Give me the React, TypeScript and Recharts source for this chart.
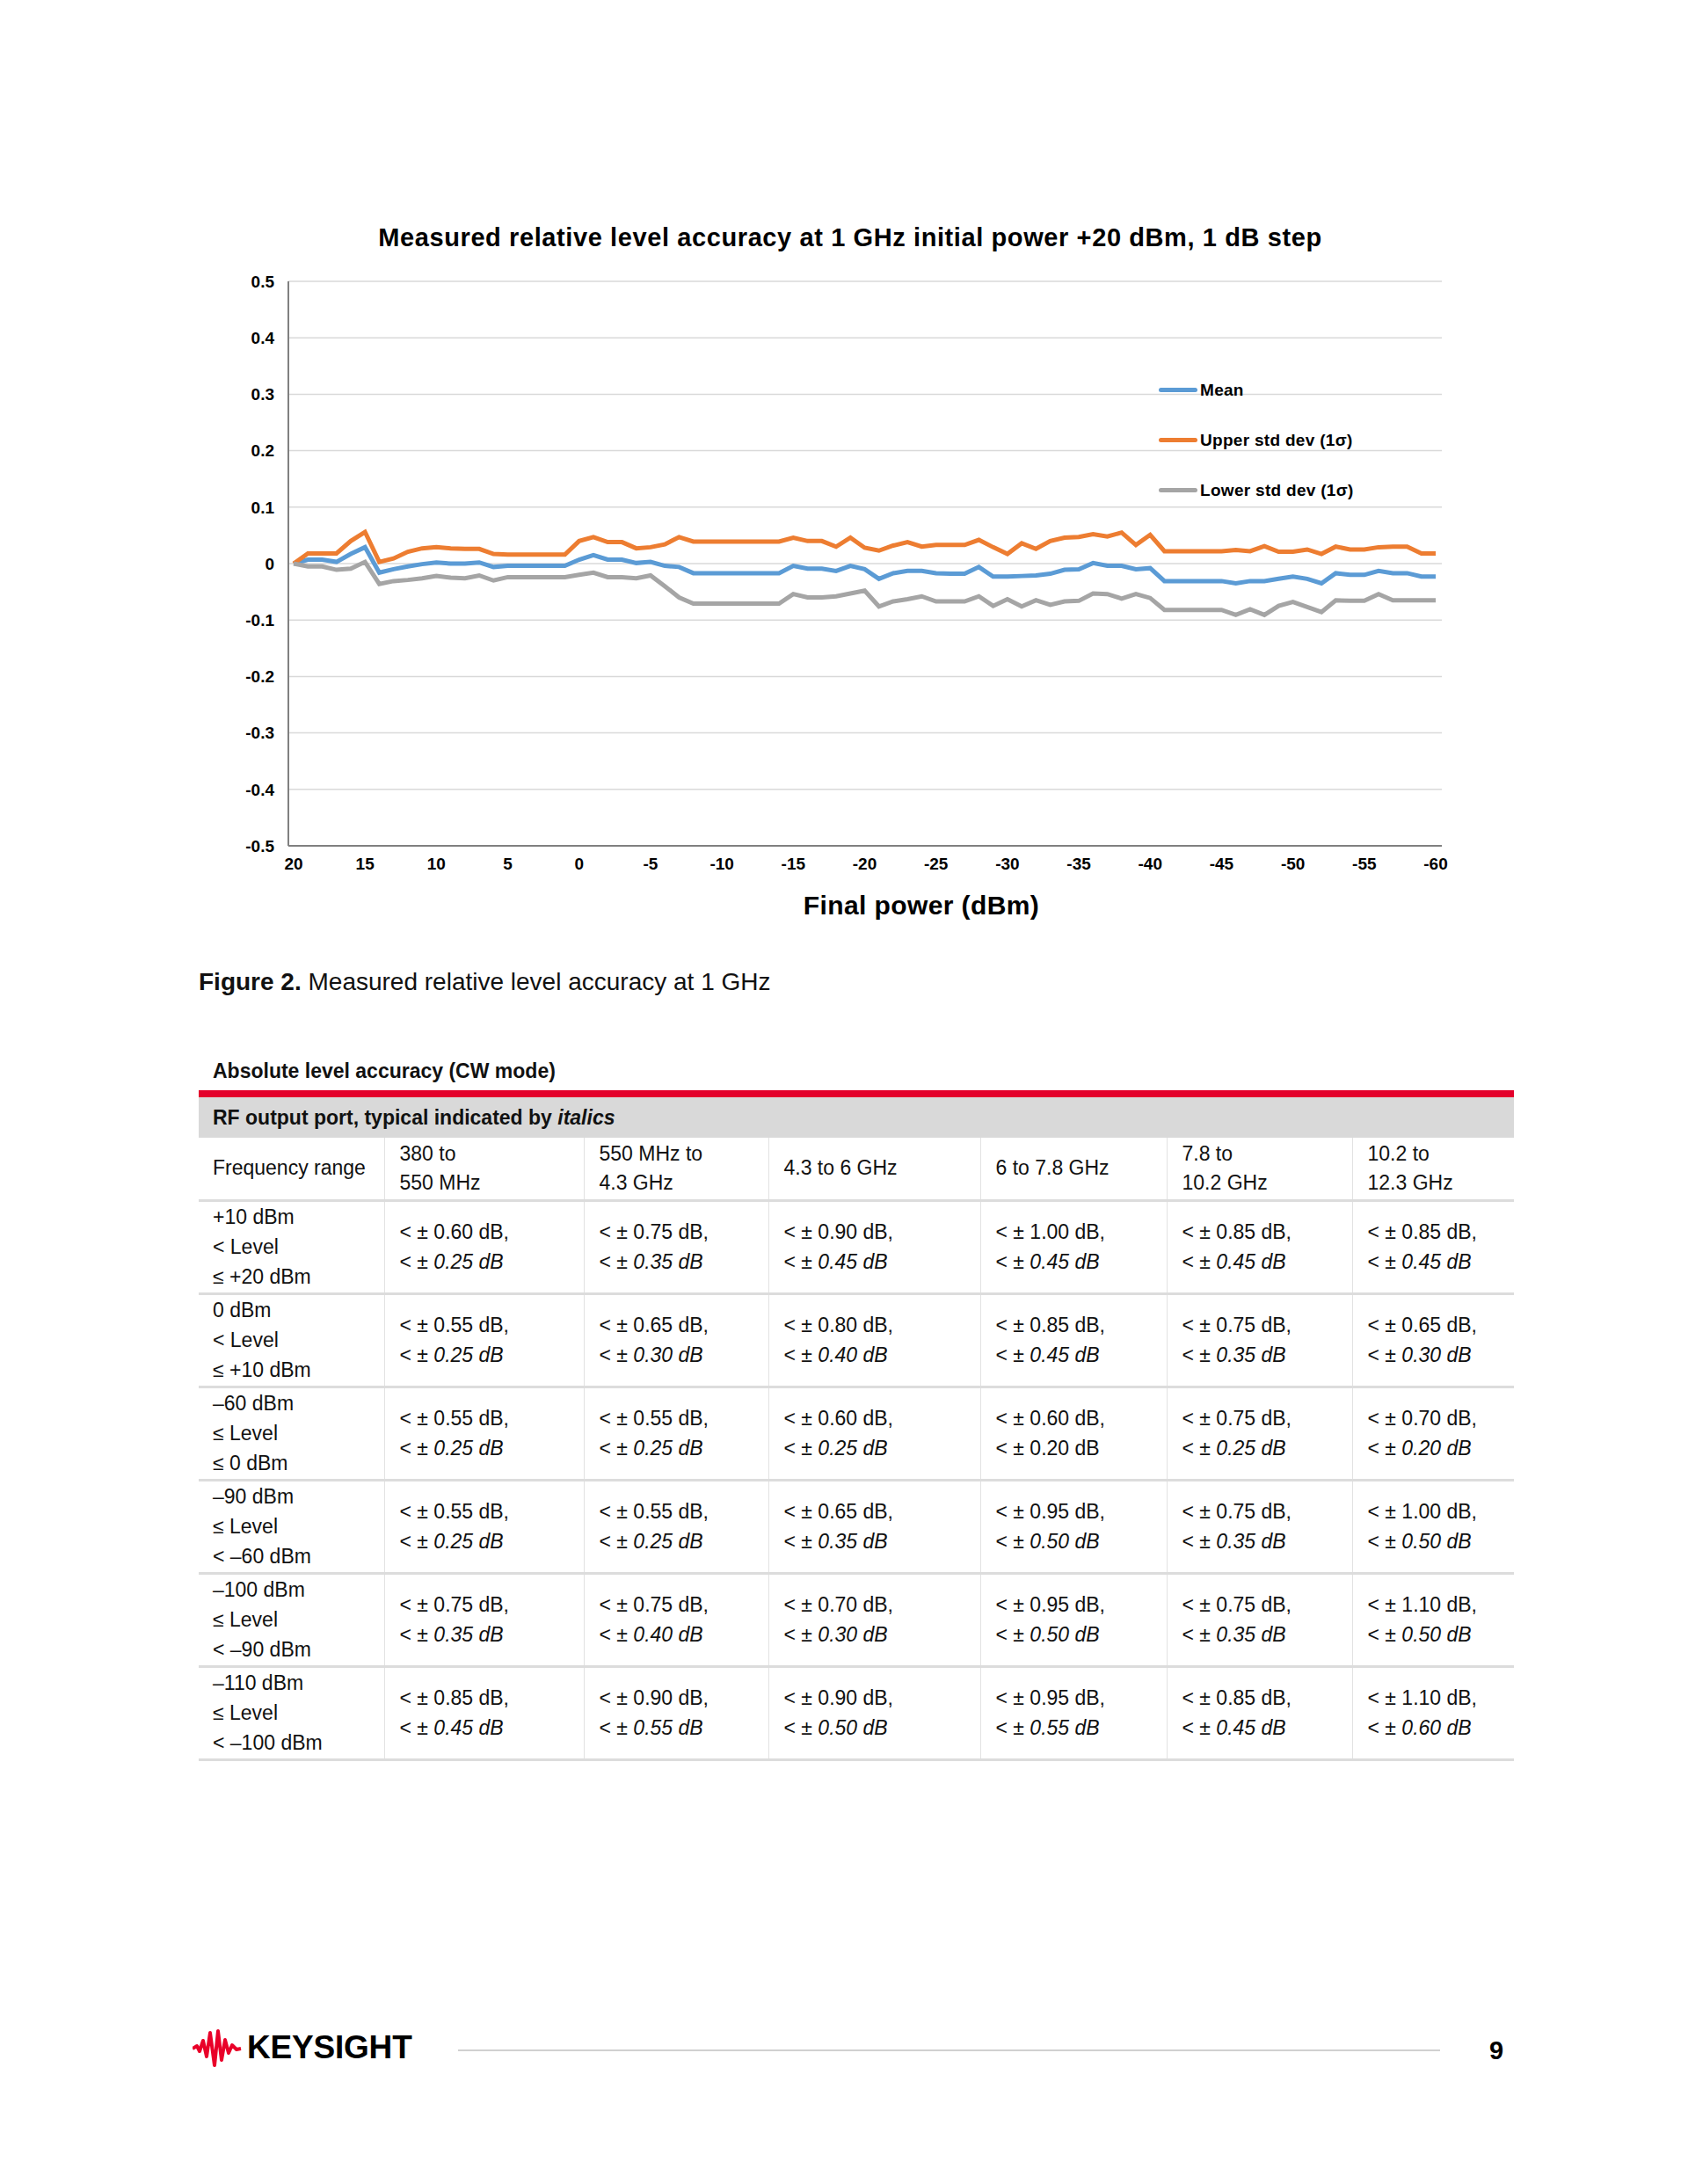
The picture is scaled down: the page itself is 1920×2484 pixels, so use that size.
import React from 'react';
import { LineChart, Line, XAxis, YAxis, CartesianGrid, Legend } from 'recharts';

// final power steps, 1 dB each, from +20 down to -60 dBm
const finalPower = [
  20, 19, 18, 17, 16, 15, 14, 13, 12, 11, 10, 9, 8, 7, 6, 5, 4, 3, 2, 1, 0,
  -1, -2, -3, -4, -5, -6, -7, -8, -9, -10, -11, -12, -13, -14, -15, -16, -17, -18, -19, -20,
  -21, -22, -23, -24, -25, -26, -27, -28, -29, -30, -31, -32, -33, -34, -35, -36, -37, -38, -39, -40,
  -41, -42, -43, -44, -45, -46, -47, -48, -49, -50, -51, -52, -53, -54, -55, -56, -57, -58, -59, -60,
];

const meanValues = [
  0, 0.007, 0.007, 0.003, 0.017, 0.029, -0.016, -0.01, -0.005, -0.001, 0.002, 0, 0, 0.002, -0.006, -0.004, -0.004, -0.004, -0.004, -0.004, 0.007,
  0.015, 0.007, 0.007, 0.001, 0.003, -0.004, -0.006, -0.017, -0.017, -0.017, -0.017, -0.017, -0.017, -0.017, -0.004, -0.009, -0.009, -0.013, -0.004, -0.01,
  -0.027, -0.017, -0.013, -0.013, -0.017, -0.018, -0.018, -0.006, -0.023, -0.023, -0.022, -0.021, -0.018, -0.011, -0.01, 0.001, -0.004, -0.004, -0.01, -0.008,
  -0.031, -0.031, -0.031, -0.031, -0.031, -0.035, -0.031, -0.031, -0.027, -0.023, -0.027, -0.035, -0.017, -0.02, -0.02, -0.013, -0.017, -0.017, -0.023, -0.023,
];

const upperValues = [
  0, 0.018, 0.018, 0.018, 0.04, 0.056, 0.003, 0.009, 0.021, 0.027, 0.029, 0.027, 0.026, 0.026, 0.017, 0.016, 0.016, 0.016, 0.016, 0.016, 0.04,
  0.047, 0.038, 0.038, 0.027, 0.029, 0.034, 0.047, 0.039, 0.039, 0.039, 0.039, 0.039, 0.039, 0.039, 0.046, 0.04, 0.04, 0.03, 0.046, 0.028,
  0.023, 0.032, 0.038, 0.03, 0.033, 0.033, 0.033, 0.042, 0.029, 0.017, 0.036, 0.026, 0.04, 0.046, 0.047, 0.052, 0.048, 0.055, 0.033, 0.051,
  0.022, 0.022, 0.022, 0.022, 0.022, 0.024, 0.022, 0.031, 0.021, 0.021, 0.025, 0.017, 0.03, 0.025, 0.025, 0.029, 0.03, 0.03, 0.018, 0.018,
];

const lowerValues = [
  0, -0.005, -0.005, -0.011, -0.009, 0.003, -0.036, -0.031, -0.029, -0.026, -0.022, -0.025, -0.026, -0.021, -0.03, -0.024, -0.024, -0.024, -0.024, -0.024, -0.02,
  -0.016, -0.024, -0.024, -0.026, -0.021, -0.04, -0.06, -0.071, -0.071, -0.071, -0.071, -0.071, -0.071, -0.071, -0.054, -0.06, -0.06, -0.058, -0.053, -0.048,
  -0.076, -0.067, -0.063, -0.058, -0.067, -0.067, -0.067, -0.058, -0.075, -0.063, -0.076, -0.065, -0.073, -0.067, -0.066, -0.053, -0.054, -0.062, -0.054, -0.061,
  -0.082, -0.082, -0.082, -0.082, -0.082, -0.091, -0.081, -0.091, -0.075, -0.068, -0.077, -0.086, -0.065, -0.066, -0.066, -0.054, -0.065, -0.065, -0.065, -0.065,
];

const seriesNames = ['Mean', 'Upper std dev (1σ)', 'Lower std dev (1σ)'];

const xTicks = [20, 15, 10, 5, 0, -5, -10, -15, -20, -25, -30, -35, -40, -45, -50, -55, -60];
const yTicks = [0.5, 0.4, 0.3, 0.2, 0.1, 0, -0.1, -0.2, -0.3, -0.4, -0.5];

// table contents
const freqHeaders = [
  ['380 to', '550 MHz'],
  ['550 MHz to', '4.3 GHz'],
  ['4.3 to 6 GHz'],
  ['6 to 7.8 GHz'],
  ['7.8 to', '10.2 GHz'],
  ['10.2 to', '12.3 GHz'],
];

const levelRanges = [
  ['+10 dBm', '< Level', '≤ +20 dBm'],
  ['0 dBm', '< Level', '≤ +10 dBm'],
  ['–60 dBm', '≤ Level', '≤ 0 dBm'],
  ['–90 dBm', '≤ Level', '< –60 dBm'],
  ['–100 dBm', '≤ Level', '< –90 dBm'],
  ['–110 dBm', '≤ Level', '< –100 dBm'],
];

const specValues = [
  ['0.60', '0.75', '0.90', '1.00', '0.85', '0.85'],
  ['0.55', '0.65', '0.80', '0.85', '0.75', '0.65'],
  ['0.55', '0.55', '0.60', '0.60', '0.75', '0.70'],
  ['0.55', '0.55', '0.65', '0.95', '0.75', '1.00'],
  ['0.75', '0.75', '0.70', '0.95', '0.75', '1.10'],
  ['0.85', '0.90', '0.90', '0.95', '0.85', '1.10'],
];

const typicalValues = [
  ['0.25', '0.35', '0.45', '0.45', '0.45', '0.45'],
  ['0.25', '0.30', '0.40', '0.45', '0.35', '0.30'],
  ['0.25', '0.25', '0.25', '0.20', '0.25', '0.20'],
  ['0.25', '0.25', '0.35', '0.50', '0.35', '0.50'],
  ['0.35', '0.40', '0.30', '0.50', '0.35', '0.50'],
  ['0.45', '0.55', '0.50', '0.55', '0.45', '0.60'],
];

// cells printed upright instead of italic
const uprightCells = ['2-3'];

const colWidths = [211, 227, 210, 241, 212, 211, 184];

const chartData = finalPower.map((p, i) => ({
  power: p,
  mean: meanValues[i],
  upper: upperValues[i],
  lower: lowerValues[i],
}));

const frame = { stroke: '#808080', strokeWidth: 2 };
const tickStyle = { fill: '#000', fontSize: 19, fontWeight: 'bold' as const };

function ChartLegend(props: any) {
  const items = [...(props.payload ?? [])].sort(
    (a: any, b: any) => seriesNames.indexOf(a.value) - seriesNames.indexOf(b.value)
  );
  return (
    <div>
      {items.map((it: any) => (
        <div key={it.value} style={{ display: 'flex', alignItems: 'center', height: 57 }}>
          <span style={{ display: 'inline-block', width: 44, height: 5, borderRadius: 3, background: it.color }} />
          <span style={{ fontSize: 19, fontWeight: 'bold', color: '#000', marginLeft: 3, letterSpacing: 0.3 }}>{it.value}</span>
        </div>
      ))}
    </div>
  );
}

function AccuracyChart() {
  return (
    <div style={{ position: 'absolute', left: 200, top: 300 }}>
      <LineChart width={1500} height={720} data={chartData} margin={{ top: 20, right: 60, left: 68, bottom: 18 }}>
        <CartesianGrid vertical={false} stroke="#d9d9d9" strokeWidth={1.5} />
        <XAxis
          dataKey="power"
          type="number"
          domain={[-60, 20]}
          reversed
          ticks={xTicks}
          interval={0}
          padding={{ left: 6, right: 7 }}
          height={40}
          tickLine={false}
          tickMargin={8}
          axisLine={frame}
          tick={tickStyle}
        />
        <YAxis
          type="number"
          domain={[-0.5, 0.5]}
          ticks={yTicks}
          interval={0}
          width={60}
          tickLine={false}
          tickMargin={10}
          axisLine={frame}
          tick={tickStyle}
          tickFormatter={(v: number) => (v === 0 ? '0' : v.toFixed(1))}
        />
        <XAxis xAxisId="top" orientation="top" dataKey="power" type="number" domain={[-60, 20]} reversed height={0} tick={false} tickLine={false} axisLine={frame} />
        <YAxis yAxisId="right" orientation="right" type="number" domain={[-0.5, 0.5]} width={0} tick={false} tickLine={false} axisLine={frame} />
        <Line dataKey="mean" name={seriesNames[0]} stroke="#5b9bd5" strokeWidth={5} dot={false} isAnimationActive={false} />
        <Line dataKey="upper" name={seriesNames[1]} stroke="#ed7d31" strokeWidth={5} dot={false} isAnimationActive={false} />
        <Line dataKey="lower" name={seriesNames[2]} stroke="#a5a5a5" strokeWidth={5} dot={false} isAnimationActive={false} />
        <Legend
          layout="vertical"
          align="center"
          verticalAlign="middle"
          content={ChartLegend}
          wrapperStyle={{ left: 1118, top: 115, width: 280, height: 171 }}
        />
      </LineChart>
    </div>
  );
}

const rowBorder = '3px solid #dcdcdc';
const colBorder = '1.5px solid #e2e2e2';

function AccuracyTable() {
  const cell = { padding: '0 0 0 17px', borderBottom: rowBorder, borderLeft: colBorder, verticalAlign: 'middle' as const };
  return (
    <table
      style={{
        position: 'absolute',
        left: 226,
        top: 1248,
        width: 1496,
        borderCollapse: 'collapse',
        tableLayout: 'fixed',
        fontSize: 23,
        lineHeight: '34px',
        color: '#111',
      }}
    >
      <colgroup>
        {colWidths.map((w, i) => (
          <col key={i} style={{ width: w }} />
        ))}
      </colgroup>
      <tbody>
        <tr style={{ height: 46, background: '#d9d9d9' }}>
          <td colSpan={7} style={{ padding: '0 0 0 16px', fontWeight: 'bold' }}>
            RF output port, typical indicated by <i>italics</i>
          </td>
        </tr>
        <tr style={{ height: 71 }}>
          <td style={{ ...cell, paddingLeft: 16, borderLeft: 'none', lineHeight: '33px' }}>Frequency range</td>
          {freqHeaders.map((h, i) => (
            <td key={i} style={{ ...cell, lineHeight: '33px' }}>
              {h.map((l) => (
                <div key={l}>{l}</div>
              ))}
            </td>
          ))}
        </tr>
        {levelRanges.map((lv, r) => (
          <tr key={r} style={{ height: 106 }}>
            <td style={{ ...cell, paddingLeft: 16, borderLeft: 'none' }}>
              {lv.map((l) => (
                <div key={l}>{l}</div>
              ))}
            </td>
            {specValues[r].map((s, c) => {
              const typ = typicalValues[r][c] + ' dB';
              const upright = uprightCells.includes(`${r}-${c}`);
              return (
                <td key={c} style={cell}>
                  <div>{'< ± ' + s + ' dB,'}</div>
                  <div>
                    {'< ± '}
                    {upright ? typ : <i>{typ}</i>}
                  </div>
                </td>
              );
            })}
          </tr>
        ))}
      </tbody>
    </table>
  );
}

export default function App() {
  return (
    <div
      style={{
        position: 'absolute',
        left: 0,
        top: 0,
        width: 1920,
        height: 2484,
        background: '#fff',
        fontFamily: '"Liberation Sans", Arial, sans-serif',
        color: '#000',
        overflow: 'hidden',
      }}
    >
      <div style={{ position: 'absolute', left: 217, top: 253, width: 1500, textAlign: 'center', fontSize: 29, fontWeight: 'bold', lineHeight: '34px', letterSpacing: 0.6 }}>
        Measured relative level accuracy at 1 GHz initial power +20 dBm, 1 dB step
      </div>

      <AccuracyChart />

      <div style={{ position: 'absolute', left: 748, top: 1012, width: 600, textAlign: 'center', fontSize: 30, fontWeight: 'bold', lineHeight: '36px', letterSpacing: 0.4 }}>
        Final power (dBm)
      </div>

      <div style={{ position: 'absolute', left: 226, top: 1100, fontSize: 28, lineHeight: '34px', color: '#111' }}>
        <b>Figure 2.</b> Measured relative level accuracy at 1 GHz
      </div>

      <div style={{ position: 'absolute', left: 242, top: 1201, fontSize: 23, fontWeight: 'bold', lineHeight: '34px', color: '#111' }}>
        Absolute level accuracy (CW mode)
      </div>
      <div style={{ position: 'absolute', left: 226, top: 1240, width: 1496, height: 8, background: '#e4002b' }} />

      <AccuracyTable />

      {/* footer */}
      <svg style={{ position: 'absolute', left: 219, top: 2306 }} width={56} height={48}>
        <polyline
          points="0,24 5,21 8,27 12,15 16,33 20,6 25,43 29,4 33,37 37,14 41,29 45,20 50,25 55,24"
          fill="none"
          stroke="#e90029"
          strokeWidth={4}
          strokeLinejoin="round"
        />
      </svg>
      <div style={{ position: 'absolute', left: 281, top: 2308, fontSize: 37, fontWeight: 'bold', lineHeight: '42px', letterSpacing: -0.2 }}>
        KEYSIGHT
      </div>
      <div style={{ position: 'absolute', left: 521, top: 2331, width: 1117, height: 2, background: '#d0d0d0' }} />
      <div style={{ position: 'absolute', left: 1694, top: 2315, fontSize: 29, fontWeight: 'bold', lineHeight: '34px' }}>9</div>
    </div>
  );
}
